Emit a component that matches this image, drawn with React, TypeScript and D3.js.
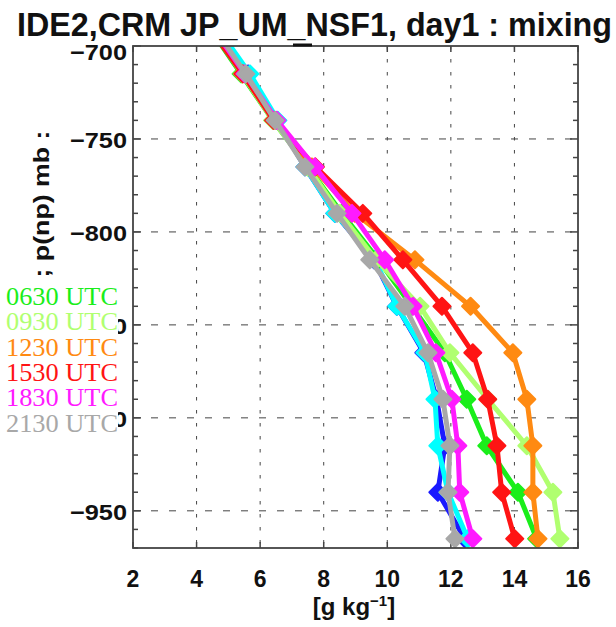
import React, { useEffect, useRef } from 'react';
import * as d3 from 'd3';

// pressure levels (mb, negative = up the axis as plotted)
const levels = [-690, -715, -740, -765, -790, -815, -840, -865, -890, -915, -940, -965];

// mixing ratio [g/kg] per output time
const blue0030 = [4.6, 5.62, 6.53, 7.41, 8.35, 9.58, 10.3, 11.15, 11.55, 11.81, 11.59, 12.44];
const cyan0330 = [4.65, 5.68, 6.56, 7.41, 8.35, 9.61, 10.3, 11.18, 11.5, 11.59, 11.91, 12.53];
const green0630 = [4.4, 5.4, 6.4, 7.5, 8.57, 9.72, 10.77, 11.81, 12.5, 13.13, 14.11, 14.7];
const lgreen0930 = [4.45, 5.43, 6.4, 7.5, 8.51, 9.65, 11.03, 11.97, 13.16, 14.39, 15.21, 15.43];
const orange1230 = [4.45, 5.46, 6.47, 7.63, 8.98, 10.87, 12.62, 13.95, 14.39, 14.58, 14.58, 14.74];
const red1530 = [4.4, 5.45, 6.42, 7.74, 9.23, 10.49, 11.72, 12.69, 13.16, 13.45, 13.6, 14.01];
const magenta1830 = [4.5, 5.52, 6.53, 7.72, 8.89, 9.92, 10.81, 11.53, 12.03, 12.22, 12.28, 12.69];
const gray2130 = [4.55, 5.55, 6.47, 7.41, 8.42, 9.45, 10.55, 11.28, 11.75, 11.97, 11.91, 12.13];

const series = [
  { name: '0030 UTC', values: blue0030, color: '#1a1aff', legend: false },
  { name: '0330 UTC', values: cyan0330, color: '#00ffff', legend: false },
  { name: '0630 UTC', values: green0630, color: '#1aee1a', legend: true },
  { name: '0930 UTC', values: lgreen0930, color: '#b0ff70', legend: true },
  { name: '1230 UTC', values: orange1230, color: '#ff8a12', legend: true },
  { name: '1530 UTC', values: red1530, color: '#ff1414', legend: true },
  { name: '1830 UTC', values: magenta1830, color: '#ff1aff', legend: true },
  { name: '2130 UTC', values: gray2130, color: '#a8a8a8', legend: true },
];

const xTicks = [2, 4, 6, 8, 10, 12, 14, 16];
const yTicks = [-700, -750, -800, -850, -900, -950];
const yMinor = d3.range(-700, -971, -10);

const App = () => {
  const ref = useRef<SVGSVGElement>(null);

  useEffect(() => {
    const svg = d3.select(ref.current);
    svg.selectAll('*').remove();

    const left = 133, right = 578, top = 46, bottom = 548;
    const x = d3.scaleLinear().domain([2, 16]).range([left, right]);
    const y = d3.scaleLinear().domain([-700, -970]).range([top, bottom]);

    svg.append('rect').attr('width', 616).attr('height', 627).attr('fill', '#fff');

    svg.append('defs').append('clipPath').attr('id', 'plotclip')
      .append('rect').attr('x', left).attr('y', top).attr('width', right - left).attr('height', bottom - top);

    // grid
    const grid = svg.append('g').attr('stroke', '#444').attr('stroke-width', 1);
    grid.selectAll('line.gx')
      .data(xTicks.slice(1, -1))
      .join('line')
        .attr('x1', d => x(d)).attr('x2', d => x(d))
        .attr('y1', top).attr('y2', bottom)
        .attr('stroke-dasharray', '3.5,9.5');
    grid.selectAll('line.gy')
      .data(yTicks.slice(1))
      .join('line')
        .attr('class', 'gy')
        .attr('x1', left).attr('x2', right)
        .attr('y1', d => y(d)).attr('y2', d => y(d))
        .attr('stroke-dasharray', '7,11');

    // ticks
    const ticks = svg.append('g').attr('stroke', '#444').attr('stroke-width', 1.5);
    yMinor.forEach(v => {
      const len = v % 50 === 0 ? 8 : 5;
      ticks.append('line').attr('x1', left).attr('x2', left + len).attr('y1', y(v)).attr('y2', y(v));
      ticks.append('line').attr('x1', right).attr('x2', right - len).attr('y1', y(v)).attr('y2', y(v));
    });
    xTicks.forEach(v => {
      ticks.append('line').attr('x1', x(v)).attr('x2', x(v)).attr('y1', bottom).attr('y2', bottom - 6);
      ticks.append('line').attr('x1', x(v)).attr('x2', x(v)).attr('y1', top).attr('y2', top + 6);
    });

    // data
    const line = d3.line<number>()
      .x(d => x(d))
      .y((d, i) => y(levels[i]));
    const diamond = 'M0,-8.5L8.5,0L0,8.5L-8.5,0Z';

    const plot = svg.append('g').attr('clip-path', 'url(#plotclip)');
    series.forEach(s => {
      const g = plot.append('g');
      g.append('path')
        .attr('d', line(s.values))
        .attr('fill', 'none')
        .attr('stroke', s.color)
        .attr('stroke-width', 5)
        .attr('stroke-linejoin', 'round');
      g.selectAll('path.m')
        .data(s.values)
        .join('path')
          .attr('class', 'm')
          .attr('d', diamond)
          .attr('transform', (d, i) => `translate(${x(d)},${y(levels[i])})`)
          .attr('fill', s.color)
          .attr('stroke', s.color)
          .attr('stroke-width', 2)
          .attr('stroke-linejoin', 'round');
    });

    // frame
    svg.append('rect')
      .attr('x', left).attr('y', top).attr('width', right - left).attr('height', bottom - top)
      .attr('fill', 'none').attr('stroke', '#444').attr('stroke-width', 1.8);
    svg.append('line').attr('x1', 293).attr('x2', 312).attr('y1', 45).attr('y2', 45)
      .attr('stroke', '#111').attr('stroke-width', 3);

    // tick labels
    const font = 'Liberation Sans, Arial, sans-serif';
    svg.append('g')
      .attr('font-family', font).attr('font-size', 22).attr('font-weight', 'bold')
      .attr('text-anchor', 'end').attr('fill', '#111')
      .selectAll('text')
      .data(yTicks)
      .join('text')
        .attr('x', 127)
        .attr('y', d => y(d) + (d === -700 ? 14 : 9))
        .attr('textLength', 57).attr('lengthAdjust', 'spacingAndGlyphs')
        .text(d => '\u2212' + Math.abs(d));
    svg.append('g')
      .attr('font-family', font).attr('font-size', 23).attr('font-weight', 'bold')
      .attr('text-anchor', 'middle').attr('fill', '#111')
      .selectAll('text')
      .data(xTicks)
      .join('text')
        .attr('x', d => x(d))
        .attr('y', 587)
        .text(d => d);

    // axis titles
    const xl = svg.append('text')
      .attr('x', 354).attr('y', 615)
      .attr('font-family', font).attr('font-size', 24).attr('font-weight', 'bold')
      .attr('text-anchor', 'middle').attr('fill', '#111');
    xl.append('tspan').text('[g kg');
    xl.append('tspan').attr('font-size', 15).attr('dy', -9).text('\u22121');
    xl.append('tspan').attr('dy', 9).text(']');

    svg.append('text')
      .attr('transform', 'translate(49,204) rotate(-90)')
      .attr('font-family', font).attr('font-size', 22).attr('font-weight', 'bold')
      .attr('text-anchor', 'middle').attr('fill', '#111')
      .attr('textLength', 147).attr('lengthAdjust', 'spacingAndGlyphs')
      .text('; p(np) mb :');

    svg.append('text')
      .attr('x', 17).attr('y', 36)
      .attr('font-family', font).attr('font-size', 33).attr('font-weight', 'bold').attr('fill', '#111')
      .attr('textLength', 595).attr('lengthAdjust', 'spacingAndGlyphs')
      .text('IDE2,CRM JP_UM_NSF1, day1 : mixing');

    // legend (drawn over the hidden y tick labels)
    const leg = series.filter(s => s.legend);
    svg.append('rect').attr('x', 0).attr('y', 283).attr('width', 118).attr('height', 152).attr('fill', '#fff');
    svg.append('g')
      .attr('font-family', 'Liberation Serif, Times New Roman, serif').attr('font-size', 26)
      .selectAll('text')
      .data(leg)
      .join('text')
        .attr('x', 6)
        .attr('y', (d, i) => 305 + i * 25.3)
        .attr('textLength', 112).attr('lengthAdjust', 'spacingAndGlyphs')
        .attr('fill', d => d.color)
        .text(d => d.name);
  }, []);

  return (
    <svg ref={ref} width={616} height={627} style={{ position: 'absolute', left: 0, top: 0 }}></svg>
  );
};

export default App;
